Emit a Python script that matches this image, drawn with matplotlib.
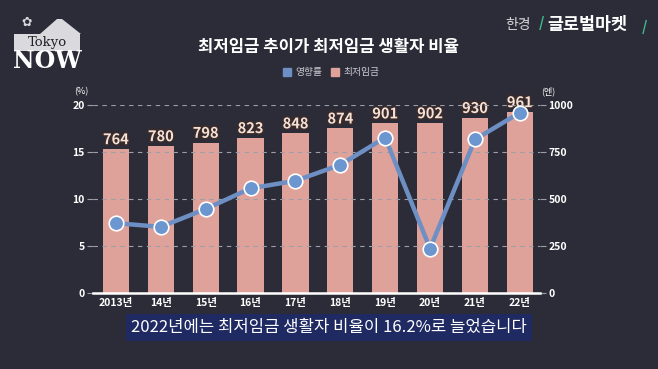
import matplotlib.pyplot as plt
import matplotlib.patheffects as pe
from matplotlib.patches import Polygon, Rectangle

plt.rcParams['font.family'] = ['Noto Sans CJK KR', 'DejaVu Sans']

# 데이터
years = ['2013년', '14년', '15년', '16년', '17년', '18년', '19년', '20년', '21년', '22년']
wage = [764, 780, 798, 823, 848, 874, 901, 902, 930, 961]          # 최저임금 (엔)
rate = [7.4, 7.0, 8.9, 11.1, 11.9, 13.6, 16.5, 4.7, 16.3, 19.15]   # 영향률 (%)
left_ticks = [0, 5, 10, 15, 20]
right_ticks = [0, 250, 500, 750, 1000]

BG = '#2b2c37'
BAR = '#dfa29b'
LINE = '#6d8fc4'
GRID = '#9c9ea8'

fig = plt.figure(figsize=(6.58, 3.69), dpi=100)
fig.patch.set_facecolor(BG)

ax = fig.add_axes([0.1413, 0.2068, 0.6794, 0.5095])
ax.set_facecolor(BG)
ax2 = ax.twinx()

x = list(range(len(years)))

# 막대 (오른쪽 축)
ax2.bar(x, wage, width=0.585, color=BAR, zorder=2)
for xi, v in zip(x, wage):
    ax2.text(xi, v + 10, str(v), ha='center', va='bottom', fontsize=10.5,
             fontweight='bold', color='#f7e2d6', clip_on=False,
             path_effects=[pe.withStroke(linewidth=2.4, foreground='#3a2b2c')])
ax2.set_ylim(0, 1000)
ax2.set_yticks(right_ticks)
ax2.set_yticklabels([str(t) for t in right_ticks])

# 선 (왼쪽 축) - 막대 위에 보이도록
ax.set_zorder(ax2.get_zorder() + 1)
ax.patch.set_visible(False)
ax2.patch.set_facecolor(BG)
ax.plot(x, rate, color=LINE, lw=3.2, marker='o', markersize=10.5,
        markerfacecolor='#6b96cf', markeredgecolor='white', markeredgewidth=1.2,
        zorder=5, clip_on=False)
ax.set_ylim(0, 20)
ax.set_yticks(left_ticks)
ax.set_yticklabels([str(t) for t in left_ticks])
ax.set_xlim(-0.51, 9.45)
ax.set_xticks(x)
ax.set_xticklabels(years)

for t in left_ticks[1:]:
    ax.axhline(t, color=GRID, lw=0.8, ls=(0, (4, 4)), zorder=1)

for a in (ax, ax2):
    for s in a.spines.values():
        s.set_visible(False)
    a.tick_params(colors='white', labelsize=7.5, length=4, width=0.8)
    for lab in a.get_yticklabels() + a.get_xticklabels():
        lab.set_fontweight('bold')
ax.spines['bottom'].set_visible(True)
ax.spines['bottom'].set_color('white')
ax.spines['bottom'].set_linewidth(1.8)
ax.tick_params(axis='x', length=0, pad=4)
ax.tick_params(axis='y', color=GRID, pad=2)
ax2.tick_params(axis='y', color=GRID, pad=2)

fig.text(81 / 658, 1 - 92 / 369, '(%)', color='white', fontsize=6.5, ha='center', va='center')
fig.text(548 / 658, 1 - 91 / 369, '(엔)', color='white', fontsize=6.5, ha='center', va='center')

# 제목 및 범례
fig.text(0.5, 1 - 47 / 369, '최저임금 추이가 최저임금 생활자 비율', color='white',
         fontsize=12, fontweight='bold', ha='center', va='center')
fig.patches.append(Rectangle((283 / 658, 1 - 76 / 369), 8 / 658, 8 / 369,
                             color=LINE, transform=fig.transFigure))
fig.text(295 / 658, 1 - 72 / 369, '영향률', color='#c9cad2', fontsize=7, va='center')
fig.patches.append(Rectangle((331 / 658, 1 - 76 / 369), 8 / 658, 8 / 369,
                             color=BAR, transform=fig.transFigure))
fig.text(343 / 658, 1 - 72 / 369, '최저임금', color='#c9cad2', fontsize=7, va='center')

# 자막
fig.text(0.5, 1 - 327 / 369, '2022년에는 최저임금 생활자 비율이 16.2%로 늘었습니다',
         color='white', fontsize=12, ha='center', va='center',
         bbox=dict(boxstyle='square,pad=0.3', fc='#1f2a62', ec='none'))

# 로고 (왼쪽 위)
fig.patches.append(Polygon([(40 / 658, 1 - 34 / 369), (57 / 658, 1 - 19 / 369),
                            (62 / 658, 1 - 19 / 369), (81 / 658, 1 - 34 / 369)],
                           closed=True, fc='#d9d9de', ec='none', transform=fig.transFigure))
fig.text(27 / 658, 1 - 22 / 369, '✿', color='#d9d9de', fontsize=9, family='DejaVu Sans',
         ha='center', va='center')
fig.patches.append(Rectangle((14 / 658, 1 - 51 / 369), 66 / 658, 17 / 369,
                             fc='#d9d9de', ec='none', transform=fig.transFigure))
fig.text(47 / 658, 1 - 42.5 / 369, 'Tokyo', color='#222', fontsize=9.5, family='DejaVu Serif',
         ha='center', va='center')
fig.text(47 / 658, 1 - 61 / 369, 'NOW', color='white', fontsize=17, fontweight='bold',
         family='DejaVu Serif', ha='center', va='center')

# 로고 (오른쪽 위)
fig.text(505 / 658, 1 - 25 / 369, '한경', color='#d4d4d8', fontsize=10, va='center')
fig.text(539 / 658, 1 - 23 / 369, '/', color='#3fbf8f', fontsize=10, fontweight='bold',
         va='center')
fig.text(547 / 658, 1 - 25 / 369, '글로벌마켓', color='white', fontsize=12.5,
         fontweight='bold', va='center')
fig.text(642 / 658, 1 - 27 / 369, '/', color='#3fbf8f', fontsize=10, fontweight='bold',
         va='center')

fig.savefig('out.png', dpi=100, facecolor=BG)
